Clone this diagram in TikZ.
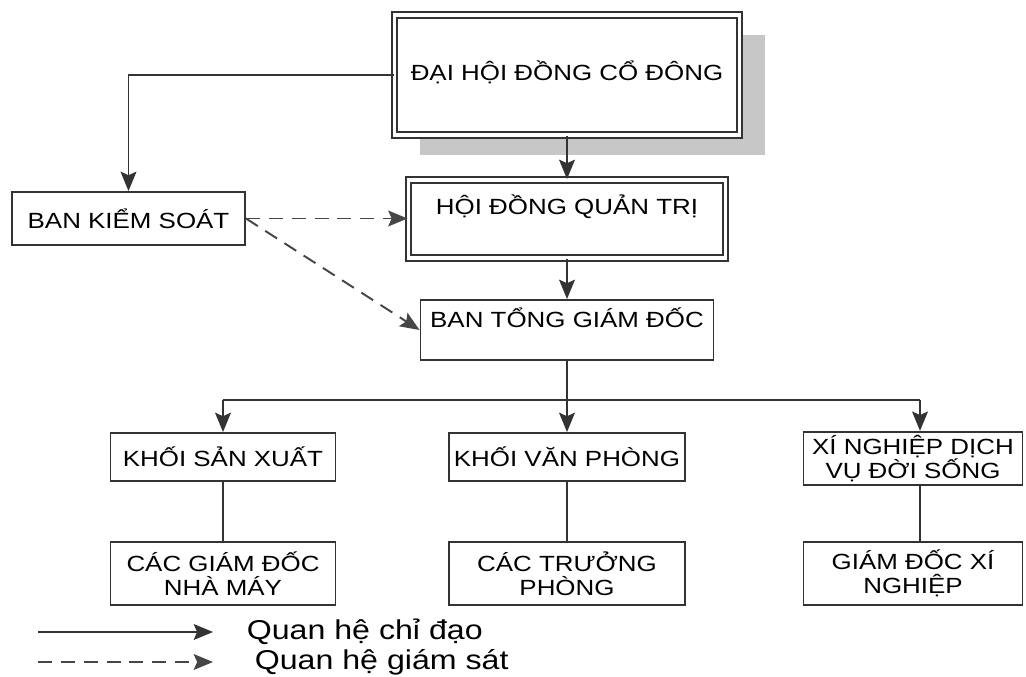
\documentclass[tikz,border=0pt]{standalone}
\usepackage{fontspec}
\setmainfont{Liberation Sans}[FakeStretch=1.18]
\usetikzlibrary{arrows.meta,shadows}

\begin{document}
\begin{tikzpicture}[>={Stealth[length=11pt,width=9pt,inset=2pt]},
    font=\fontsize{12.5}{13.5}\selectfont, line width=1.1pt, draw=black!80,
    box/.style={draw=black!80, fill=white, inner sep=2pt, align=center},
    dbox/.style={box, double, double distance=2.2pt},
    sup/.style={->, gray!55!black, dash pattern=on 8pt off 5pt}]
    \useasboundingbox (0,0) rectangle (20.52,-13.54);

    \node[dbox, minimum width=6.9cm, minimum height=2.4cm,
          drop shadow={shadow xshift=0.5cm, shadow yshift=-0.4cm, fill=black!22, opacity=1},
          label={[yshift=0.06cm]center:ĐẠI HỘI ĐỒNG CỔ ĐÔNG}] (dh) at (11.34,-1.5) {};
    \node[dbox, minimum width=6.34cm, minimum height=1.56cm,
          label={[yshift=0.24cm]center:HỘI ĐỒNG QUẢN TRỊ}] (hd) at (11.34,-4.38) {};
    \node[box, minimum width=5.86cm, minimum height=1.2cm,
          label={[yshift=0.24cm]center:BAN TỔNG GIÁM ĐỐC}] (tgd) at (11.34,-6.6) {};
    \node[box, minimum width=4.66cm, minimum height=1.06cm] (bks) at (2.57,-4.37) {BAN KIỂM SOÁT};

    \node[box, minimum width=4.5cm, minimum height=0.96cm] (ksx) at (4.46,-9.14) {KHỐI SẢN XUẤT};
    \node[box, minimum width=4.72cm, minimum height=0.96cm] (kvp) at (11.34,-9.14) {KHỐI VĂN PHÒNG};
    \node[box, minimum width=4.38cm, minimum height=1.02cm] (xn) at (18.26,-9.17) {XÍ NGHIỆP DỊCH\\VỤ ĐỜI SỐNG};

    \node[box, minimum width=4.5cm, minimum height=1.26cm] (gdnm) at (4.46,-11.47) {CÁC GIÁM ĐỐC\\NHÀ MÁY};
    \node[box, minimum width=4.72cm, minimum height=1.26cm] (tp) at (11.34,-11.47) {CÁC TRƯỞNG\\PHÒNG};
    \node[box, minimum width=4.38cm, minimum height=1.26cm] (gdxn) at (18.26,-11.47) {GIÁM ĐỐC XÍ\\NGHIỆP};

    \coordinate (b1) at (4.46,-8.0);
    \coordinate (b2) at (11.34,-8.0);
    \coordinate (b3) at (18.4,-8.0);

    \draw[->] (dh.west) -| (bks.north);
    \draw[->] (dh) -- (hd);
    \draw[->] (hd) -- (tgd);
    \draw (tgd.south) -- (b2);
    \draw (b1) -- (b3);
    \draw[->] (b1) -- (ksx.north);
    \draw[->] (b2) -- (kvp.north);
    \draw[->] (b3) -- (b3 |- xn.north);
    \draw (ksx) -- (gdnm);
    \draw (kvp) -- (tp);
    \draw (b3 |- xn.south) -- (b3 |- gdxn.north);

    \draw[sup] (bks.east) -- (bks.east -| hd.west);
    \draw[sup] (bks.east) -- (tgd.west);

    \coordinate (la) at (0.76,-12.64);
    \coordinate (lb) at (4.26,-12.64);
    \coordinate (lc) at (0.76,-13.24);
    \coordinate (ld) at (4.26,-13.24);
    \draw[->] (la) -- (lb);
    \draw[sup] (lc) -- (ld);
    \node[anchor=west, font=\fontsize{15.5}{17}\selectfont] (cd) at (4.8,-12.64) {Quan hệ chỉ đạo};
    \node[anchor=west, font=\fontsize{15.5}{17}\selectfont] (gs) at (4.96,-13.24) {Quan hệ giám sát};
\end{tikzpicture}
\end{document}
